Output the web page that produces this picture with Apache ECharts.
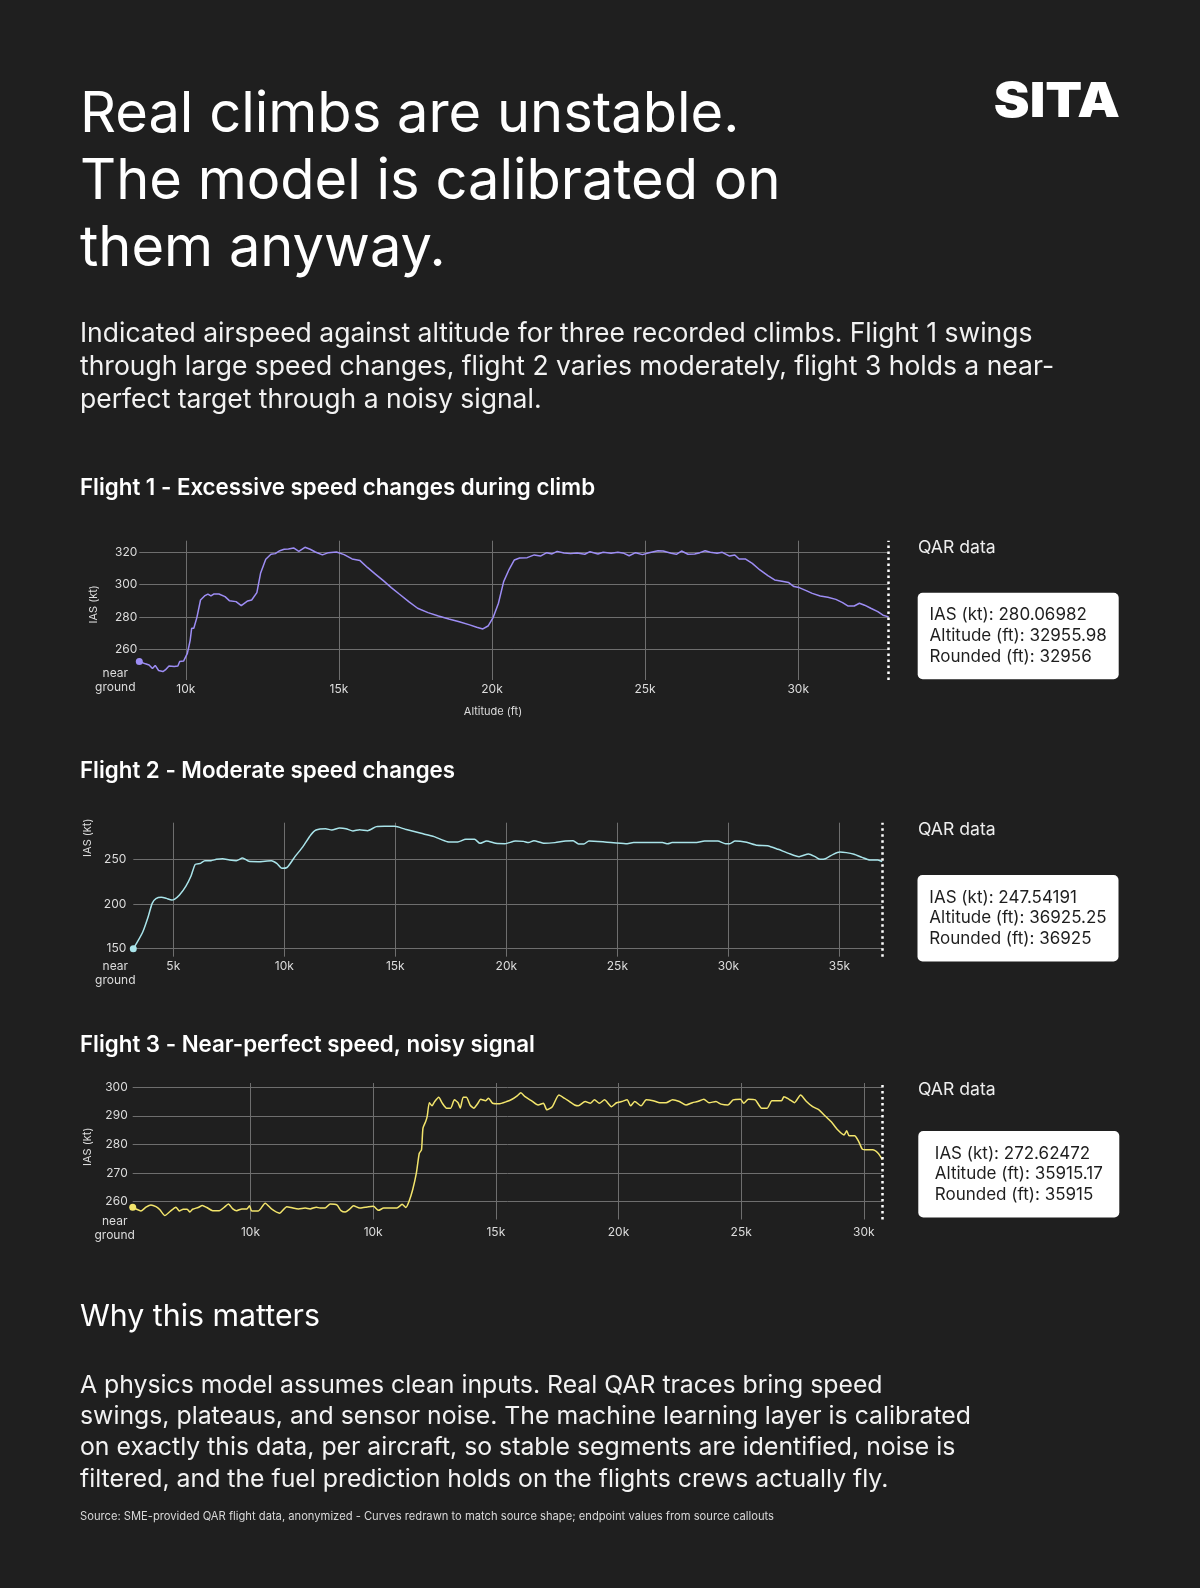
<!DOCTYPE html>
<html>
<head>
<meta charset="utf-8">
<title>Real climbs are unstable</title>
<script src="https://cdn.jsdelivr.net/npm/echarts@6/dist/echarts.min.js"></script>
<style>
  html, body { margin: 0; padding: 0; background: #1f1f1f; }
  #chart { width: 1200px; height: 1588px; }
</style>
</head>
<body>
<div id="chart"></div>
<script>
// Flight 1 - altitude (ft) and IAS (kt)
const f1Alt = [8480, 8680, 8800, 8910, 9000, 9110, 9250, 9330, 9450, 9620,
  9740, 9800, 9930, 10050, 10140, 10190, 10260, 10360, 10480, 10610,
  10720, 10820, 10910, 11080, 11280, 11420, 11640, 11810, 12020, 12150,
  12320, 12440, 12610, 12780, 12920, 13070, 13210, 13350, 13520, 13690,
  13890, 14060, 14230, 14460, 14660, 14920, 15170, 15430, 15690, 15940,
  16200, 16460, 16710, 16970, 17280, 17570, 17910, 18250, 18590, 18930,
  19270, 19500, 19700, 19870, 20040, 20210, 20380, 20560, 20730, 20900,
  21150, 21380, 21580, 21790, 21960, 22130, 22350, 22570, 22780, 23030,
  23200, 23460, 23630, 23890, 24110, 24310, 24480, 24690, 24910, 25130,
  25420, 25590, 25850, 26020, 26190, 26400, 26620, 26790, 26960, 27130,
  27350, 27520, 27760, 27930, 28070, 28270, 28500, 28750, 29010, 29230,
  29470, 29690, 29860, 30030, 30260, 30460, 30720, 30970, 31230, 31450,
  31620, 31830, 32000, 32170, 32370, 32600, 32770, 32955.98];
const f1Ias = [252.4, 251.0, 250.3, 248.1, 250.0, 246.9, 246.2, 247.2, 249.7, 249.3,
  249.7, 252.4, 252.8, 257.5, 265.4, 273.0, 273.0, 279.6, 290.5, 293.0,
  294.2, 293.0, 294.2, 294.2, 292.6, 290.1, 289.5, 287.0, 289.9, 290.5,
  295.1, 307.0, 315.7, 318.8, 319.2, 321.0, 321.9, 322.1, 322.7, 320.6,
  323.1, 321.9, 320.2, 318.4, 319.8, 320.2, 318.6, 315.9, 314.9, 310.5,
  306.4, 302.3, 298.2, 294.2, 289.5, 285.4, 282.7, 280.6, 278.8, 277.1,
  275.1, 273.6, 272.6, 274.4, 279.8, 288.5, 301.9, 309.5, 315.3, 316.5,
  316.7, 318.4, 317.7, 319.8, 319.0, 320.6, 319.6, 319.2, 319.6, 318.8,
  320.4, 319.0, 320.0, 319.4, 320.0, 319.4, 317.9, 319.8, 318.6, 319.8,
  321.0, 320.8, 319.4, 318.8, 320.8, 318.8, 319.0, 319.8, 321.0, 320.0,
  319.4, 320.0, 317.7, 318.4, 315.9, 315.9, 313.2, 309.1, 305.6, 302.9,
  302.1, 301.3, 298.8, 298.2, 296.3, 294.6, 293.0, 292.2, 290.9, 288.9,
  286.8, 286.8, 288.5, 287.3, 285.4, 283.3, 281.1, 280.07];

// Flight 2
const f2Alt = [3200, 3390, 3630, 3870, 4050, 4220, 4460, 4690, 4930, 5050,
  5280, 5570, 5800, 5990, 6230, 6420, 6700, 6940, 7220, 7530,
  7840, 8120, 8400, 8830, 9420, 9660, 9890, 10130, 10480, 10840,
  11190, 11430, 11860, 12140, 12490, 12780, 13090, 13390, 13750, 14150,
  14500, 14980, 15450, 16160, 16750, 17340, 17810, 18170, 18570, 18810,
  19110, 19520, 19940, 20410, 20770, 21000, 21240, 21710, 22190, 22660,
  23010, 23250, 23490, 23720, 24430, 25380, 25730, 27030, 27270, 27460,
  28570, 28920, 29520, 29870, 30060, 30300, 30820, 31290, 31760, 32240,
  32710, 33180, 33610, 33900, 34130, 34370, 34720, 35020, 35310, 35660,
  36020, 36370, 36730, 36925.25];
const f2Ias = [150.0, 157.8, 169.0, 185.8, 200.7, 206.0, 207.5, 206.3, 204.5, 205.2,
  210.1, 220.1, 231.3, 244.4, 245.5, 248.5, 248.5, 250.0, 250.7, 249.3,
  248.5, 251.5, 247.8, 247.4, 248.5, 245.5, 239.9, 241.0, 253.0, 264.2,
  277.2, 282.8, 284.3, 282.8, 285.1, 284.3, 281.7, 283.2, 282.1, 286.6,
  286.9, 286.9, 283.6, 279.1, 275.4, 269.8, 269.4, 272.4, 272.4, 267.9,
  270.5, 267.9, 267.5, 270.5, 270.1, 268.7, 270.9, 267.9, 268.7, 270.5,
  270.9, 267.2, 267.2, 270.5, 269.4, 267.5, 268.7, 268.7, 267.5, 268.7,
  268.7, 270.5, 270.5, 267.5, 267.5, 270.5, 269.0, 265.7, 265.3, 261.2,
  256.7, 253.0, 256.0, 253.0, 250.0, 250.7, 255.6, 258.2, 257.5, 255.6,
  252.2, 249.3, 249.3, 247.54];

// Flight 3
const f3Alt = [200, 360, 530, 740, 940, 1150, 1310, 1510, 1720, 1960,
  2100, 2260, 2420, 2530, 2640, 2870, 3040, 3220, 3460, 3730,
  3920, 4100, 4280, 4440, 4650, 4850, 4960, 5050, 5320, 5600,
  5870, 6180, 6480, 6730, 6960, 7230, 7430, 7680, 7840, 8040,
  8250, 8520, 8690, 8860, 9040, 9200, 9450, 9680,
  10010, 10220, 10430, 10690, 10970, 11180, 11330, 11460, 11610, 11760,
  11880, 11970, 12030, 12140, 12200, 12290, 12400, 12500, 12670, 12820,
  12990, 13160, 13310, 13460, 13550, 13670, 13800, 13950, 14100, 14270,
  14380, 14590, 14700, 14870, 15120, 15440, 15660, 15870, 16020, 16190,
  16450, 16720, 16940, 17080, 17300, 17570, 17790, 18000, 18210, 18360,
  18640, 18850, 19020, 19220, 19430, 19710, 19920, 20130, 20350, 20490,
  20660, 20920, 21130, 21410, 21690, 21940, 22200, 22480, 22750, 23010,
  23220, 23480, 23690, 23970, 24180, 24460, 24670, 24970, 25100, 25290,
  25570, 25830, 26060, 26250, 26640, 26740, 26950, 27170, 27420, 27660,
  27910, 28170, 28380, 28660, 28930, 29190, 29300, 29400, 29620, 29790,
  29940, 30150, 30360, 30580, 30750];
const f3Ias = [258.0, 257.3, 256.7, 258.0, 258.8, 258.2, 257.1, 255.1, 256.5, 258.0,
  256.7, 257.3, 257.3, 256.3, 257.3, 257.9, 258.6, 257.9, 256.8, 256.8,
  257.9, 259.1, 257.4, 256.8, 257.4, 257.4, 258.5, 256.7, 256.7, 259.4,
  257.3, 255.9, 258.2, 257.7, 257.4, 257.7, 257.4, 258.0, 257.7, 257.7,
  259.1, 258.8, 256.8, 256.3, 257.3, 258.5, 257.7, 258.0,
  258.3, 256.9, 257.7, 257.7, 257.7, 259.0, 257.9, 260.0, 264.1, 269.9,
  276.9, 278.1, 285.7, 288.0, 289.7, 294.6, 293.5, 294.9, 296.5, 294.4,
  292.7, 292.7, 295.6, 294.6, 292.7, 296.5, 296.5, 293.8, 292.7, 294.4,
  295.8, 295.3, 296.2, 294.4, 294.2, 295.0, 295.8, 297.0, 298.1, 296.7,
  295.3, 293.8, 294.4, 292.1, 293.2, 297.3, 296.2, 295.0, 293.8, 293.5,
  295.0, 294.4, 295.6, 294.4, 295.6, 293.2, 294.6, 295.0, 295.6, 293.5,
  295.0, 293.5, 295.6, 295.3, 294.6, 294.6, 295.6, 295.0, 293.8, 294.6,
  295.0, 295.8, 294.6, 295.0, 294.1, 293.8, 295.6, 295.8, 294.4, 295.8,
  295.6, 292.7, 292.7, 295.3, 295.3, 296.7, 295.8, 294.6, 297.3, 295.0,
  293.2, 292.1, 290.3, 288.0, 285.1, 283.3, 284.8, 283.0, 283.0, 281.0,
  278.3, 278.1, 278.1, 276.9, 274.7];

// axis ticks and their labels (flight 3 labels are as printed in the source)
const f1XTicks = [10000, 15000, 20000, 25000, 30000];
const f1XLabels = ['10k', '15k', '20k', '25k', '30k'];
const f2XTicks = [5000, 10000, 15000, 20000, 25000, 30000, 35000];
const f2XLabels = ['5k', '10k', '15k', '20k', '25k', '30k', '35k'];
const f3XTicks = [5000, 10000, 15000, 20000, 25000, 30000];
const f3XLabels = ['10k', '10k', '15k', '20k', '25k', '30k'];
const f1YTicks = [260, 280, 300, 320];
const f2YTicks = [150, 200, 250];
const f3YTicks = [260, 270, 280, 290, 300];

// QAR callout values
const calloutIas = [280.06982, 247.54191, 272.62472];
const calloutAlt = [32955.98, 36925.25, 35915.17];

const titles = [
  'Flight 1 - Excessive speed changes during climb',
  'Flight 2 - Moderate speed changes',
  'Flight 3 - Near-perfect speed, noisy signal'
];

const FONT = 'Inter, "Noto Sans", sans-serif';
const LABEL = '#dcdcdc';
const GRIDLINE = '#6e6e6e';

// per chart layout
const panels = [
  { alt: f1Alt, ias: f1Ias, color: '#9d8df4', xTicks: f1XTicks, xLabels: f1XLabels, yTicks: f1YTicks,
    xMin: 8480, xMax: 32955.98, yMin: 241, yMax: 327.2,
    grid: { left: 139.3, top: 540.7, width: 749.4, height: 139.3 },
    yMargin: 2, xMargin: 3, namePad: 12, ngOffset: [-24, -4], xName: 'Altitude (ft)',
    head: 488, qar: 548, box: [917.7, 592.7] },
  { alt: f2Alt, ias: f2Ias, color: '#a9e4ea', xTicks: f2XTicks, xLabels: f2XLabels, yTicks: f2YTicks,
    xMin: 3200, xMax: 36925.25, yMin: 141, yMax: 291,
    grid: { left: 133.3, top: 822.7, width: 748.9, height: 134 },
    yMargin: 7, xMargin: 4, namePad: 104, ngOffset: [-18, 2], xName: '',
    head: 771.6, qar: 829.4, box: [917.5, 875] },
  { alt: f3Alt, ias: f3Ias, color: '#f3e56c', xTicks: f3XTicks, xLabels: f3XLabels, yTicks: f3YTicks,
    xMin: 200, xMax: 30750, yMin: 253.7, yMax: 301.5,
    grid: { left: 132.7, top: 1083, width: 749.6, height: 136.5 },
    yMargin: 5, xMargin: 7, namePad: 9, ngOffset: [-18, -1], xName: '',
    head: 1045, qar: 1089.7, box: [918.3, 1131] }
];

const grids = [], xAxes = [], yAxes = [], series = [];
panels.forEach(function (p, i) {
  grids.push(Object.assign({ containLabel: false }, p.grid));
  xAxes.push({
    type: 'value', gridIndex: i, min: p.xMin, max: p.xMax,
    name: p.xName, nameLocation: 'middle', nameGap: 26,
    nameTextStyle: { color: LABEL, fontSize: 11, fontFamily: FONT, padding: [0, 42, 0, 0] },
    axisLine: { show: false },
    axisTick: { show: false, customValues: p.xTicks },
    axisLabel: {
      customValues: p.xTicks, color: LABEL, fontSize: 12, fontFamily: FONT, margin: p.xMargin,
      formatter: function (v) { return p.xLabels[p.xTicks.indexOf(v)]; }
    },
    splitLine: { show: true, lineStyle: { color: GRIDLINE, width: 1 } }
  });
  yAxes.push({
    type: 'value', gridIndex: i, min: p.yMin, max: p.yMax,
    name: 'IAS (kt)', nameLocation: 'middle', nameGap: 40,
    nameTextStyle: { color: LABEL, fontSize: 11, fontFamily: FONT, padding: [0, 0, 0, p.namePad] },
    axisLine: { show: false },
    axisTick: { show: false, customValues: p.yTicks },
    axisLabel: { customValues: p.yTicks, color: LABEL, fontSize: 12, fontFamily: FONT, margin: p.yMargin },
    splitLine: { show: true, lineStyle: { color: GRIDLINE, width: 1 } }
  });
  const data = p.alt.map(function (a, k) { return [a, p.ias[k]]; });
  data[0] = {
    value: data[0],
    label: {
      show: true, position: 'bottom', offset: p.ngOffset,
      formatter: '{n|near}\n{n|ground}',
      rich: { n: { align: 'center', color: LABEL, fontSize: 12, lineHeight: 14, fontFamily: FONT } }
    }
  };
  const last = p.alt[p.alt.length - 1];
  series.push({
    type: 'line', xAxisIndex: i, yAxisIndex: i, data: data,
    symbol: 'circle',
    symbolSize: function (v, params) { return params.dataIndex === 0 ? 7 : 0; },
    itemStyle: { color: p.color },
    lineStyle: { color: p.color, width: 1.5 },
    smooth: i === 0 ? false : 0.2,
    silent: true, animation: false,
    emphasis: { disabled: true },
    markLine: {
      silent: true, symbol: ['none', 'none'], label: { show: false }, animation: false,
      lineStyle: { color: '#ffffff', width: 2.5, type: [2.5, 3.5] },
      data: [{ xAxis: last }]
    }
  });
});

function txt(x, y, text, size, weight, color, extra) {
  return {
    type: 'text', x: x, y: y, silent: true,
    style: Object.assign({
      text: text, fill: color, fontSize: size, fontWeight: weight, fontFamily: FONT,
      align: 'left', verticalAlign: 'middle'
    }, extra || {})
  };
}

const graphics = [
  txt(80, 181.7, 'Real climbs are unstable.\nThe model is calibrated on\nthem anyway.', 56, 400, '#ffffff', { lineHeight: 67 }),
  Object.assign(txt(1120, 102.2, 'SITA', 48, 900, '#ffffff', { align: 'right' }), { scaleX: 1.12 }),
  txt(80, 367.3, 'Indicated airspeed against altitude for three recorded climbs. Flight 1 swings\nthrough large speed changes, flight 2 varies moderately, flight 3 holds a near-\nperfect target through a noisy signal.', 26.5, 400, '#f2f2f2', { lineHeight: 33 }),
  txt(80, 1317, 'Why this matters', 30.3, 400, '#ffffff'),
  txt(80, 1432.3, 'A physics model assumes clean inputs. Real QAR traces bring speed\nswings, plateaus, and sensor noise. The machine learning layer is calibrated\non exactly this data, per aircraft, so stable segments are identified, noise is\nfiltered, and the fuel prediction holds on the flights crews actually fly.', 24.8, 400, '#f2f2f2', { lineHeight: 31.3 }),
  txt(80, 1516.7, 'Source: SME-provided QAR flight data, anonymized - Curves redrawn to match source shape; endpoint values from source callouts', 11.2, 400, '#d8d8d8')
];

panels.forEach(function (p, i) {
  graphics.push(txt(80, p.head, titles[i], 22.3, 600, '#ffffff'));
  graphics.push(txt(918, p.qar, 'QAR data', 17.6, 400, '#eeeeee'));
  const lines = [
    'IAS (kt): ' + calloutIas[i],
    'Altitude (ft): ' + calloutAlt[i],
    'Rounded (ft): ' + Math.round(calloutAlt[i])
  ];
  graphics.push({
    type: 'rect', silent: true,
    shape: { x: p.box[0], y: p.box[1], width: 201, height: 86.5, r: 5 },
    style: { fill: '#ffffff' }
  });
  graphics.push({
    type: 'text', silent: true, x: p.box[0] + 100.5, y: p.box[1] + 43.25,
    style: {
      text: lines.map(function (l) { return '{t|' + l + '}'; }).join('\n'),
      align: 'center', verticalAlign: 'middle',
      rich: { t: { align: 'left', fontSize: 17, lineHeight: 20.6, fill: '#1e1e1e', fontFamily: FONT } }
    }
  });
});

const chart = echarts.init(document.getElementById('chart'));
chart.setOption({
  backgroundColor: '#1f1f1f',
  animation: false,
  grid: grids,
  xAxis: xAxes,
  yAxis: yAxes,
  series: series,
  graphic: graphics
});
</script>
</body>
</html>
